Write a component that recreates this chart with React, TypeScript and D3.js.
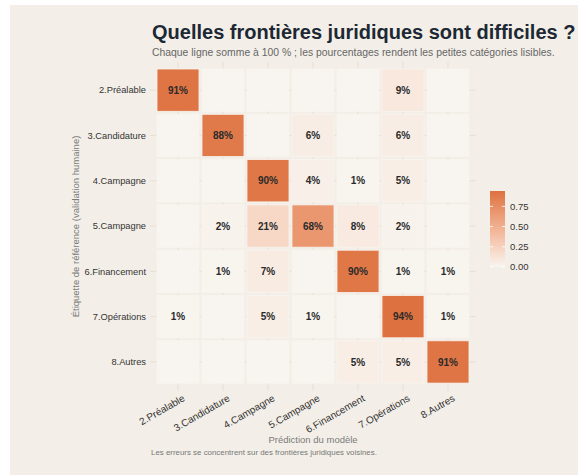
import React, { useEffect, useRef } from 'react';
import * as d3 from 'd3';

// categories (same order for reference rows and predicted columns)
const categories = ['2.Préalable', '3.Candidature', '4.Campagne', '5.Campagne', '6.Financement', '7.Opérations', '8.Autres'];

// row-normalised proportions, one array per reference label
const rowPrealable = [0.91, 0, 0, 0, 0, 0.09, 0];
const rowCandidature = [0, 0.88, 0, 0.06, 0, 0.06, 0];
const rowCampagne4 = [0, 0, 0.90, 0.04, 0.01, 0.05, 0];
const rowCampagne5 = [0, 0.02, 0.21, 0.68, 0.08, 0.02, 0];
const rowFinancement = [0, 0.01, 0.07, 0, 0.90, 0.01, 0.01];
const rowOperations = [0.01, 0, 0.05, 0.01, 0, 0.94, 0.01];
const rowAutres = [0, 0, 0, 0, 0.05, 0.05, 0.91];

const legendTicks = [0, 0.25, 0.5, 0.75];

const FONT = '"Liberation Sans", Arial, Helvetica, sans-serif';

const App: React.FC = () => {
  const svgRef = useRef<SVGSVGElement>(null);

  useEffect(() => {
    if (!svgRef.current) return;
    const svg = d3.select(svgRef.current);
    svg.selectAll('*').remove();

    const rows = [rowPrealable, rowCandidature, rowCampagne4, rowCampagne5, rowFinancement, rowOperations, rowAutres];
    const cells = rows.flatMap((vals, i) =>
      vals.map((v, j) => ({ ref: categories[i], pred: categories[j], value: v }))
    );
    const maxVal = d3.max(cells, d => d.value) as number;

    // background
    svg.append('rect').attr('width', 578).attr('height', 475).attr('fill', '#ffffff');
    svg.append('rect').attr('x', 10).attr('y', 5).attr('width', 568).attr('height', 470).attr('fill', '#F3EFE8');

    // panel
    const panel = { x0: 150, x1: 476, y0: 62, y1: 391 };
    const x = d3.scaleBand<string>().domain(categories).range([155.5, 470.5]);
    const y = d3.scaleBand<string>().domain(categories).range([67.5, 384.6]);
    const color = d3.scaleLinear<string>()
      .domain([0, maxVal])
      .range(['#F8F5F0', '#DD7140'])
      .interpolate(d3.interpolateLab);

    // grid lines
    const grid = svg.append('g').attr('stroke', '#E2D9CC').attr('stroke-width', 0.7);
    categories.forEach(c => {
      const cx = (x(c) as number) + x.bandwidth() / 2;
      grid.append('line').attr('x1', cx).attr('x2', cx).attr('y1', panel.y0).attr('y2', panel.y1);
      const cy = (y(c) as number) + y.bandwidth() / 2;
      grid.append('line').attr('x1', panel.x0).attr('x2', panel.x1).attr('y1', cy).attr('y2', cy);
    });

    // tiles
    const gap = 1.5;
    svg.append('g')
      .selectAll('rect')
      .data(cells)
      .enter()
      .append('rect')
      .attr('x', d => (x(d.pred) as number) + gap)
      .attr('y', d => (y(d.ref) as number) + gap)
      .attr('width', x.bandwidth() - 2 * gap)
      .attr('height', y.bandwidth() - 2 * gap)
      .attr('fill', d => color(d.value))
      .attr('stroke', '#F8F4EE')
      .attr('stroke-width', 0.8);

    // cell labels
    svg.append('g')
      .selectAll('text')
      .data(cells.filter(d => d.value > 0))
      .enter()
      .append('text')
      .attr('x', d => (x(d.pred) as number) + x.bandwidth() / 2)
      .attr('y', d => (y(d.ref) as number) + y.bandwidth() / 2)
      .attr('dy', '0.36em')
      .attr('text-anchor', 'middle')
      .style('font-family', FONT)
      .style('font-size', '10px')
      .style('font-weight', 'bold')
      .attr('fill', '#2A2A2A')
      .text(d => `${Math.round(d.value * 100)}%`);

    // y axis labels
    svg.append('g')
      .selectAll('text')
      .data(categories)
      .enter()
      .append('text')
      .attr('x', 146)
      .attr('y', d => (y(d) as number) + y.bandwidth() / 2)
      .attr('dy', '0.35em')
      .attr('text-anchor', 'end')
      .style('font-family', FONT)
      .style('font-size', '9.3px')
      .attr('fill', '#333333')
      .text(d => d);

    // x axis labels (rotated)
    svg.append('g')
      .selectAll('text')
      .data(categories)
      .enter()
      .append('text')
      .attr('transform', d => `translate(${(x(d) as number) + x.bandwidth() / 2 + 4},${394}) rotate(-30)`)
      .attr('dy', '0.72em')
      .attr('text-anchor', 'end')
      .style('font-family', FONT)
      .style('font-size', '10px')
      .attr('fill', '#333333')
      .text(d => d);

    // axis titles
    svg.append('text')
      .attr('x', (panel.x0 + panel.x1) / 2)
      .attr('y', 443)
      .attr('text-anchor', 'middle')
      .style('font-family', FONT)
      .style('font-size', '9.5px')
      .attr('fill', '#7A7A7A')
      .text('Prédiction du modèle');

    svg.append('text')
      .attr('transform', `translate(79,${(panel.y0 + panel.y1) / 2}) rotate(-90)`)
      .attr('text-anchor', 'middle')
      .style('font-family', FONT)
      .style('font-size', '9.5px')
      .attr('fill', '#7A7A7A')
      .text('Étiquette de référence (validation humaine)');

    // title, subtitle, caption
    svg.append('text')
      .attr('x', 152)
      .attr('y', 39)
      .style('font-family', FONT)
      .style('font-size', '20px')
      .style('font-weight', 'bold')
      .attr('fill', '#1C2833')
      .text('Quelles frontières juridiques sont difficiles ?');

    svg.append('text')
      .attr('x', 152)
      .attr('y', 56)
      .style('font-family', FONT)
      .style('font-size', '10.4px')
      .attr('fill', '#666666')
      .text('Chaque ligne somme à 100 % ; les pourcentages rendent les petites catégories lisibles.');

    svg.append('text')
      .attr('x', 151)
      .attr('y', 455)
      .style('font-family', FONT)
      .style('font-size', '7.9px')
      .attr('fill', '#777777')
      .text('Les erreurs se concentrent sur des frontières juridiques voisines.');

    // legend colour bar
    const lg = { x: 490, w: 15, yTop: 191, yBottom: 267 };
    const ly = d3.scaleLinear().domain([0, maxVal]).range([lg.yBottom, lg.yTop]);
    const defs = svg.append('defs');
    const grad = defs.append('linearGradient')
      .attr('id', 'legend-grad')
      .attr('x1', 0).attr('y1', 1).attr('x2', 0).attr('y2', 0);
    d3.range(0, 1.0001, 0.1).forEach(t => {
      grad.append('stop').attr('offset', t).attr('stop-color', color(t * maxVal));
    });
    svg.append('rect')
      .attr('x', lg.x)
      .attr('y', lg.yTop)
      .attr('width', lg.w)
      .attr('height', lg.yBottom - lg.yTop)
      .attr('fill', 'url(#legend-grad)');

    const lt = svg.append('g');
    legendTicks.forEach(t => {
      const yy = ly(t);
      lt.append('line').attr('x1', lg.x).attr('x2', lg.x + 3).attr('y1', yy).attr('y2', yy)
        .attr('stroke', '#ffffff').attr('stroke-width', 0.8);
      lt.append('line').attr('x1', lg.x + lg.w - 3).attr('x2', lg.x + lg.w).attr('y1', yy).attr('y2', yy)
        .attr('stroke', '#ffffff').attr('stroke-width', 0.8);
      lt.append('text')
        .attr('x', 510)
        .attr('y', yy)
        .attr('dy', '0.35em')
        .style('font-family', FONT)
        .style('font-size', '9.5px')
        .attr('fill', '#333333')
        .text(d3.format('.2f')(t));
    });
  }, []);

  return (
    <svg
      ref={svgRef}
      width={578}
      height={475}
      style={{ position: 'absolute', left: 0, top: 0, display: 'block' }}
    />
  );
};

export default App;
